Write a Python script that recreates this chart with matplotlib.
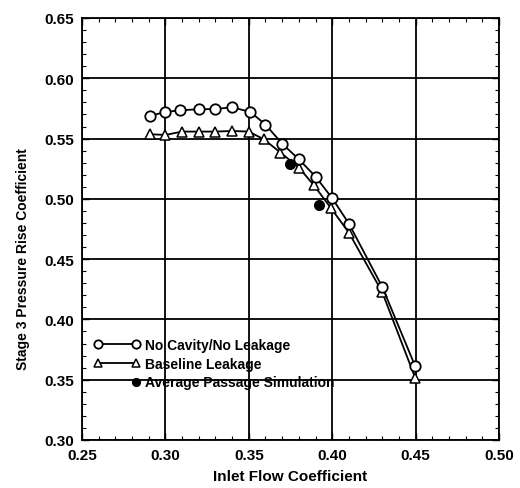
import numpy as np
import matplotlib
matplotlib.use("Agg")
import matplotlib.pyplot as plt
from matplotlib.legend_handler import HandlerLine2D
from matplotlib.ticker import MultipleLocator

plt.rcParams['font.family'] = ['Liberation Sans', 'DejaVu Sans']

# Data
no_cavity_x = [0.291, 0.300, 0.309, 0.320, 0.330, 0.340, 0.351, 0.360, 0.370, 0.380, 0.390, 0.400, 0.410, 0.430, 0.4497]
no_cavity_y = [0.569, 0.572, 0.5735, 0.5743, 0.5745, 0.576, 0.572, 0.5616, 0.5458, 0.5328, 0.5185, 0.5005, 0.4795, 0.427, 0.3614]

baseline_x = [0.291, 0.300, 0.310, 0.320, 0.330, 0.340, 0.350, 0.359, 0.369, 0.380, 0.389, 0.399, 0.410, 0.430, 0.4497]
baseline_y = [0.5536, 0.553, 0.5558, 0.5558, 0.5558, 0.5563, 0.5558, 0.5494, 0.5384, 0.526, 0.5113, 0.4928, 0.472, 0.4226, 0.3518]

avg_passage_x = [0.3747, 0.392]
avg_passage_y = [0.5287, 0.4947]

xlabel = "Inlet Flow Coefficient"
ylabel = "Stage 3 Pressure Rise Coefficient"
labels = ["No Cavity/No Leakage", "Baseline Leakage", "Average Passage Simulation"]


class RightMarker(HandlerLine2D):
    def get_xdata(self, legend, xdescent, ydescent, width, height, fontsize):
        x = np.array([-xdescent + width - self._marker_pad * fontsize])
        return x, x


fig = plt.figure(figsize=(5.2, 4.89), dpi=100)
ax = fig.add_axes([82 / 520, 1 - 441 / 489, 417 / 520, 422 / 489])

ax.set_xlim(0.25, 0.50)
ax.set_ylim(0.30, 0.65)
ax.xaxis.set_major_locator(MultipleLocator(0.05))
ax.xaxis.set_minor_locator(MultipleLocator(0.01))
ax.yaxis.set_major_locator(MultipleLocator(0.05))
ax.yaxis.set_minor_locator(MultipleLocator(0.01))
ax.xaxis.set_major_formatter(matplotlib.ticker.FormatStrFormatter('%.2f'))
ax.yaxis.set_major_formatter(matplotlib.ticker.FormatStrFormatter('%.2f'))
ax.grid(True, which='major', color='black', linewidth=1.3, zorder=1)
ax.tick_params(which='both', direction='in', top=True, right=True, colors='black')
ax.tick_params(which='major', length=5, width=1.0, labelsize=11)
ax.tick_params(axis='x', which='major', pad=6)
ax.tick_params(axis='y', which='major', pad=6)
ax.tick_params(which='minor', length=3, width=0.8)
for lab in ax.get_xticklabels() + ax.get_yticklabels():
    lab.set_fontweight('bold')
for sp in ax.spines.values():
    sp.set_linewidth(1.3)
ax.set_axisbelow(True)

l1, = ax.plot(no_cavity_x, no_cavity_y, '-o', color='black', lw=1.3, ms=7.5,
              mfc='white', mec='black', mew=1.3, zorder=4, label=labels[0])
l2, = ax.plot(baseline_x, baseline_y, '-^', color='black', lw=1.3, ms=7,
              mfc='white', mec='black', mew=1.1, zorder=3, label=labels[1])
l3, = ax.plot(avg_passage_x, avg_passage_y, 'o', color='black', ms=7,
              linestyle='none', zorder=5, label=labels[2])

ax.set_xlabel(xlabel, fontsize=11, fontweight='bold', labelpad=5)
ax.set_ylabel(ylabel, fontsize=10, fontweight='bold')
ax.yaxis.set_label_coords(-0.125, 0.431)

leg = ax.legend(handles=[l1, l2, l3], loc='upper left', bbox_to_anchor=(0.014, 0.255),
                frameon=False, handlelength=3.4, handletextpad=0.35,
                labelspacing=0.34, borderaxespad=0.0, numpoints=2, markerscale=0.8,
                handler_map={l3: RightMarker(numpoints=1)},
                prop={'weight': 'bold', 'size': 10})

fig.savefig("out.png", dpi=100)
